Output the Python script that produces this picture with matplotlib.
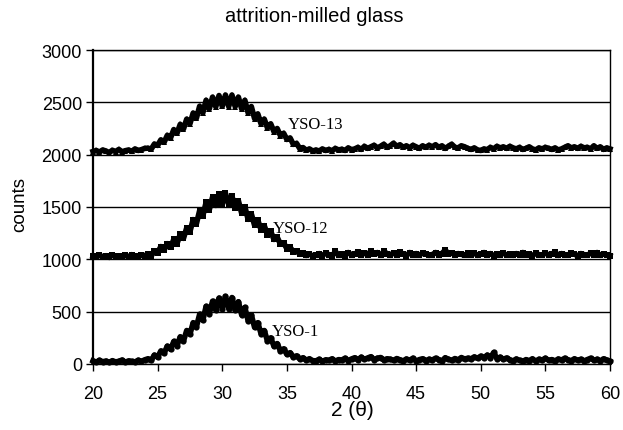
import numpy as np
import matplotlib
matplotlib.use("Agg")
import matplotlib.pyplot as plt

# 2-theta sampling (degrees)
two_theta = np.arange(20.0, 60.0001, 0.25)

yso1 = [30, 18, 35, 22, 28, 15, 32, 20, 26, 38, 17, 30, 24, 20, 36, 25, 40,
        50, 35, 85, 65, 125, 105, 170, 140,
        215, 175, 260, 220, 320, 285, 395, 355,
        475, 420, 550, 480, 600, 515, 630, 530,
        645, 530, 635, 515, 595, 470, 540, 415,
        470, 350, 395, 290, 320, 220, 250, 170,
        195, 125, 145, 92, 108, 65, 78, 47,
        60, 37, 50, 32,
        30, 45, 25, 40, 35, 50, 28, 42, 38, 55, 33, 48,
        60, 40, 65, 45, 58, 70, 42, 55, 62, 38, 50, 45,
        35, 52, 40, 30, 48, 36, 55, 28, 42, 50, 33, 45,
        38, 55, 42, 30, 60, 45, 35, 52, 40, 62, 48, 55,
        50, 68, 55, 75, 60, 85, 58, 110, 52, 65, 45, 58,
        40, 30, 48, 35, 25, 42, 32, 50, 28, 45, 38, 55,
        35, 42, 30, 48, 38, 55, 40, 32, 50, 36, 45, 30,
        42, 55, 35, 45, 30, 50, 38, 25]

yso12 = [1030, 1022, 1040, 1025, 1035, 1018, 1042, 1028, 1032, 1020, 1038, 1026, 1045, 1030, 1024, 1040, 1035,
         1052, 1032, 1078, 1065, 1122, 1088, 1150, 1115,
         1190, 1150, 1240, 1200, 1300, 1265, 1380, 1340,
         1465, 1415, 1545, 1475, 1595, 1515, 1627, 1530,
         1630, 1522, 1605, 1490, 1560, 1440, 1503, 1382,
         1435, 1325, 1375, 1283, 1322, 1235, 1268, 1190,
         1212, 1145, 1158, 1102, 1115, 1072, 1082, 1048,
         1060, 1037, 1050, 1032,
         1040, 1055, 1035, 1060, 1045, 1030, 1075, 1040, 1050, 1035, 1065, 1045,
         1050, 1070, 1040, 1060, 1045, 1080, 1050, 1065, 1040, 1075, 1055, 1045,
         1060, 1040, 1070, 1050, 1035, 1065, 1045, 1055, 1040, 1060, 1050, 1038,
         1045, 1065, 1040, 1055, 1090, 1050, 1060, 1042, 1055, 1048, 1040, 1058,
         1045, 1060, 1038, 1050, 1065, 1042, 1055, 1035, 1050, 1045, 1060, 1040,
         1050, 1038, 1055, 1045, 1065, 1040, 1050, 1035, 1058, 1045, 1040, 1060,
         1042, 1050, 1070, 1038, 1055, 1045, 1040, 1062, 1048, 1035, 1055, 1045,
         1040, 1058, 1045, 1065, 1038, 1050, 1044, 1035]

yso13 = [2030, 2040, 2025, 2045, 2035, 2020, 2042, 2030, 2050, 2028, 2038, 2045, 2032, 2055, 2040, 2048, 2060,
         2062, 2052, 2102, 2088, 2142, 2118, 2185, 2160,
         2240, 2205, 2290, 2245, 2340, 2295, 2398, 2348,
         2463, 2400, 2520, 2438, 2550, 2458, 2565, 2462,
         2570, 2460, 2570, 2460, 2550, 2438, 2520, 2400,
         2460, 2345, 2390, 2295, 2340, 2255, 2295, 2220,
         2250, 2182, 2205, 2145, 2160, 2098, 2108, 2058,
         2068, 2042, 2055, 2035,
         2045, 2035, 2055, 2040, 2050, 2038, 2060, 2045, 2052, 2040, 2065, 2048,
         2055, 2070, 2050, 2080, 2060, 2075, 2090, 2065, 2080, 2100, 2070, 2085,
         2110, 2080, 2095, 2070, 2085, 2065, 2090, 2075, 2060, 2085, 2070, 2090,
         2075, 2095, 2070, 2085, 2060, 2080, 2100, 2070, 2065, 2085, 2075, 2060,
         2050, 2065, 2045, 2040, 2055, 2048, 2070, 2055, 2080, 2065, 2075, 2060,
         2080, 2065, 2055, 2070, 2050, 2060, 2075, 2055, 2045, 2065, 2055, 2070,
         2060, 2050, 2065, 2045, 2055, 2070, 2085, 2065, 2075, 2060, 2080, 2065,
         2070, 2055, 2085, 2060, 2075, 2050, 2065, 2055]

series_labels = ["YSO-1", "YSO-12", "YSO-13"]
label_pos = [(33.8, 320), (33.9, 1300), (35.1, 2290)]
markers = ["o", "s", "^"]

for s in (yso1, yso12, yso13):
    if len(s) != len(two_theta):
        raise ValueError(f"length {len(s)} != {len(two_theta)}")

fig = plt.figure(figsize=(6.23, 4.31), dpi=100)
ax = fig.add_axes([93/623, 1-365/431, (610-93)/623, (365-51)/431])

for ys, m in zip((yso1, yso12, yso13), markers):
    ax.plot(two_theta, ys, linestyle="-", color="black", lw=4,
            marker=m, markersize=4.5, markeredgewidth=0, clip_on=False)

for lab, (lx, ly) in zip(series_labels, label_pos):
    ax.text(lx, ly, lab, family="Liberation Serif", fontsize=12, va="center", ha="left")

ax.set_xlim(20, 60)
ax.set_ylim(0, 3000)
ax.set_xticks(np.arange(20, 61, 5))
ax.set_yticks(np.arange(0, 3001, 500))
ax.yaxis.grid(True, color="black", lw=1)
ax.set_axisbelow(True)
for sp in ax.spines.values():
    sp.set_color("black")
ax.spines["left"].set_linewidth(1.6)
ax.spines["right"].set_linewidth(1.0)
ax.spines["top"].set_linewidth(1.0)
ax.spines["bottom"].set_linewidth(1.0)
ax.tick_params(direction="out", length=5, width=1, labelsize=13,
               colors="black", pad=3)
for t in ax.get_xticklabels() + ax.get_yticklabels():
    t.set_family("Liberation Sans")
ax.tick_params(axis="x", pad=10)

fig.text(314/623, 1-16/431, "attrition-milled glass", family="Liberation Sans",
         fontsize=14.5, ha="center", va="center")
fig.text(20/623, 1-205/431, "counts", family="Liberation Sans", fontsize=13.5,
         rotation=90, ha="center", va="center")
fig.text(352/623, 1-411/431, "2 (θ)", family=["Liberation Sans", "DejaVu Sans"],
         fontsize=15, ha="center", va="center")

fig.savefig("out.png", dpi=100)
